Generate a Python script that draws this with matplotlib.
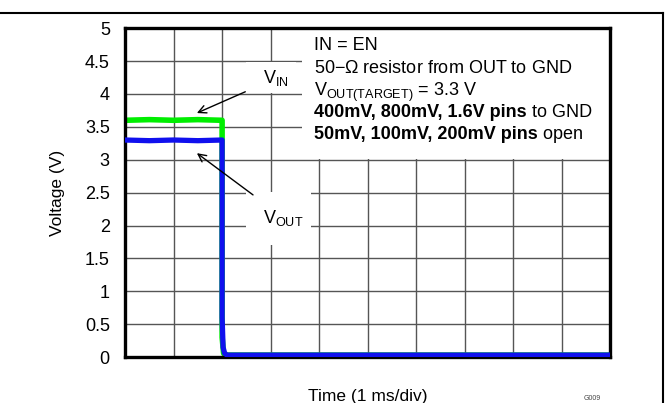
import matplotlib.pyplot as plt
from matplotlib.lines import Line2D
from matplotlib.patches import Rectangle

plt.rcParams['font.family'] = ['Liberation Sans', 'DejaVu Sans']
plt.rcParams['mathtext.fontset'] = 'custom'
plt.rcParams['mathtext.rm'] = 'Liberation Sans'
plt.rcParams['mathtext.bf'] = 'Liberation Sans:bold'

# === Waveform data (time in ms, 1 ms/div) ===
t_in = [0.0, 0.5, 1.0, 1.5, 2.0, 2.0, 2.03, 2.08, 10.0]
v_in = [3.6, 3.61, 3.6, 3.61, 3.6, 0.3, 0.06, 0.03, 0.03]
t_out = [0.0, 0.5, 1.0, 1.5, 2.0, 2.0, 2.02, 2.05, 2.1, 10.0]
v_out = [3.3, 3.29, 3.3, 3.29, 3.3, 0.6, 0.15, 0.06, 0.03, 0.03]

x_ticks = list(range(0, 11))
y_ticks = [0, 0.5, 1, 1.5, 2, 2.5, 3, 3.5, 4, 4.5, 5]
y_labels = ['0', '0.5', '1', '1.5', '2', '2.5', '3', '3.5', '4', '4.5', '5']

# (bold part, normal part)
notes = [
    ("", "IN = EN"),
    ("", "50$-\\Omega$ resistor from OUT to GND"),
    ("", "V$_{\\mathrm{OUT(TARGET)}}$ = 3.3 V"),
    ("400mV, 800mV, 1.6V pins", " to GND"),
    ("50mV, 100mV, 200mV pins", " open"),
]
y_note = [4.73, 4.39, 4.03, 3.72, 3.39]

fig = plt.figure(figsize=(6.69, 4.03), dpi=100)
ax = fig.add_axes([0.187, 0.114, 0.725, 0.816])

ax.plot(t_in, v_in, color='#00ee00', lw=4, zorder=2)
ax.plot(t_out, v_out, color='#1010ee', lw=3.8, zorder=3)

ax.set_xlim(0, 10)
ax.set_ylim(0, 5)
ax.set_xticks(x_ticks)
ax.set_xticklabels([])
ax.set_yticks(y_ticks)
ax.set_yticklabels(y_labels, fontsize=13)
ax.tick_params(length=0, pad=11)
ax.grid(True, color='#555555', lw=1)
ax.set_axisbelow(True)
for s in ax.spines.values():
    s.set_linewidth(2.4)

ax.set_xlabel("Time (1 ms/div)", fontsize=12.5, labelpad=12)
ax.set_ylabel("Voltage (V)", fontsize=12.5, labelpad=14)

# white boxes covering the grid behind the labels
ax.add_patch(Rectangle((0.365, 0.602), 0.635, 0.398, transform=ax.transAxes,
                       fc='white', ec='none', zorder=1))
ax.add_patch(Rectangle((2.49, 4.01), 1.04, 0.47, fc='white', ec='none', zorder=1))
ax.add_patch(Rectangle((2.49, 1.70), 1.35, 0.81, fc='white', ec='none', zorder=1))

for (bold, normal), yy in zip(notes, y_note):
    if bold:
        tb = ax.text(3.9, yy, bold, fontsize=13, fontweight='bold',
                     va='center', ha='left', zorder=4)
        ax.annotate(normal, xy=(1, 0), xycoords=tb, fontsize=13,
                    va='bottom', ha='left', zorder=4)
    else:
        ax.text(3.9, yy, normal, fontsize=13, va='center', ha='left', zorder=4)

ax.annotate("V$_{\\mathrm{IN}}$", xy=(1.48, 3.71), xytext=(2.85, 4.24),
            fontsize=13, va='center', ha='left', zorder=4,
            arrowprops=dict(arrowstyle='->', color='black', lw=1,
                            shrinkA=12, shrinkB=0, mutation_scale=14))
ax.annotate("V$_{\\mathrm{OUT}}$", xy=(1.48, 3.10), xytext=(2.85, 2.12),
            fontsize=13, va='center', ha='left', zorder=4,
            arrowprops=dict(arrowstyle='->', color='black', lw=1,
                            shrinkA=12, shrinkB=0, mutation_scale=14))

# page frame lines
fig.add_artist(Line2D([0, 0.991], [0.968, 0.968], color='black', lw=1.5))
fig.add_artist(Line2D([0.991, 0.991], [0, 0.968], color='black', lw=1.5))
fig.text(0.872, 0.002, "G009", fontsize=5, color='#444444', va='bottom')

fig.savefig("out.png", dpi=100)
